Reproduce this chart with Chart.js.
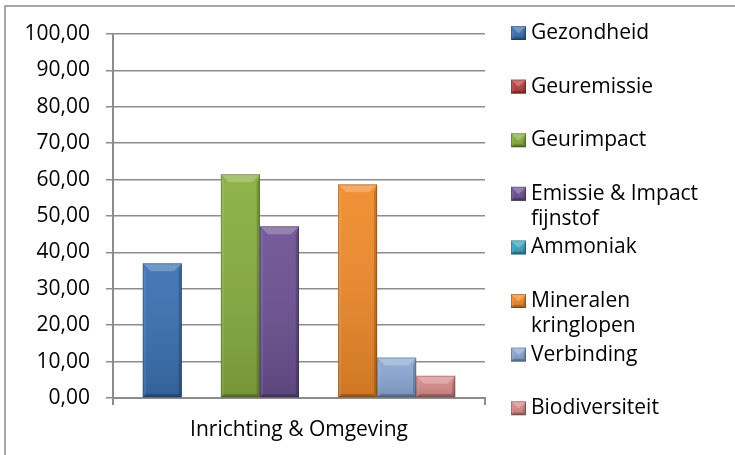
<!DOCTYPE html>
<html>
<head>
<meta charset="utf-8">
<script src="https://cdn.jsdelivr.net/npm/chart.js@4.4.0/dist/chart.umd.min.js"></script>
<style>
  html, body { margin: 0; padding: 0; background: #fff; }
  #wrap { width: 735px; height: 455px; }
</style>
</head>
<body>
<div id="wrap"><canvas id="chart" width="735" height="455"></canvas></div>
<script>
const categories = ['Inrichting & Omgeving'];
const seriesNames = ['Gezondheid', 'Geuremissie', 'Geurimpact', 'Emissie & Impact fijnstof', 'Ammoniak', 'Mineralen kringlopen', 'Verbinding', 'Biodiversiteit'];
const seriesValues = [37.0, 0, 61.5, 47.2, 0, 58.7, 11.1, 6.1];
const seriesColors = ['#3a70b2', '#b9403d', '#88ad3f', '#6c5193', '#3ea6c0', '#f08a2a', '#8aa9d5', '#d98b8a'];
const yTickValues = [0, 10, 20, 30, 40, 50, 60, 70, 80, 90, 100];

const axisGray = '#8c8c8c';
const fontFamily = "'Open Sans', sans-serif";

Chart.defaults.font.family = fontFamily;
Chart.defaults.font.size = 21;
Chart.defaults.color = '#000';

// bevel look like the old office charts
function bevel(ctx, l, t, r, bot) {
    const h = bot - t;
    const w = r - l;
    if (h < 1) return;
    const b = Math.min(8, h / 2, w / 2);
    const g = ctx.createLinearGradient(0, t, 0, bot);
    g.addColorStop(0, 'rgba(255,255,255,0.06)');
    g.addColorStop(1, 'rgba(0,0,0,0.14)');
    ctx.fillStyle = g;
    ctx.fillRect(l, t, w, h);

    const poly = (pts, fill) => {
        ctx.beginPath();
        ctx.moveTo(pts[0][0], pts[0][1]);
        pts.slice(1).forEach((p) => ctx.lineTo(p[0], p[1]));
        ctx.closePath();
        ctx.fillStyle = fill;
        ctx.fill();
    };
    poly([[l, t], [r, t], [r - b, t + b], [l + b, t + b]], 'rgba(255,255,255,0.24)');
    poly([[l, t], [l + b * 0.4, t + b], [l + b * 0.4, bot - b * 0.4], [l, bot]], 'rgba(255,255,255,0.08)');
    poly([[r, t], [r - b * 0.4, t + b], [r - b * 0.4, bot - b * 0.4], [r, bot]], 'rgba(0,0,0,0.18)');
    poly([[l, bot], [l + b * 0.4, bot - b * 0.4], [r - b * 0.4, bot - b * 0.4], [r, bot]], 'rgba(0,0,0,0.22)');
    ctx.strokeStyle = 'rgba(0,0,0,0.22)';
    ctx.lineWidth = 1;
    ctx.strokeRect(l + 0.5, t + 0.5, w - 1, h - 1);
}

const frame = {
    id: 'frame',
    beforeDraw(chart) {
        const { ctx } = chart;
        ctx.save();
        ctx.strokeStyle = axisGray;
        ctx.lineWidth = 1.5;
        ctx.strokeRect(5, 6, 760, 480);
        ctx.restore();
    },
};

const barBevel = {
    id: 'barBevel',
    afterDatasetsDraw(chart) {
        const { ctx } = chart;
        ctx.save();
        chart.data.datasets.forEach((ds, i) => {
            chart.getDatasetMeta(i).data.forEach((bar) => {
                const { x, y, base, width } = bar.getProps(['x', 'y', 'base', 'width'], true);
                bevel(ctx, x - width / 2, y, x + width / 2, base);
            });
        });
        ctx.restore();
    },
};

const sideLegend = {
    id: 'sideLegend',
    afterDraw(chart) {
        const { ctx, chartArea } = chart;
        const boxX = chartArea.right + 26;
        const textX = boxX + 20;
        const maxW = 185;
        const step = 53.6;
        const lineH = 25;
        ctx.save();
        ctx.font = `21px ${fontFamily}`;
        ctx.textBaseline = 'middle';
        ctx.textAlign = 'left';
        seriesNames.forEach((name, i) => {
            const cy = 33 + i * step;
            ctx.fillStyle = seriesColors[i];
            ctx.fillRect(boxX, cy - 7, 15, 14);
            bevel(ctx, boxX, cy - 7, boxX + 15, cy + 7);

            const words = name.split(' ');
            const lines = [];
            let cur = '';
            words.forEach((w) => {
                const test = cur ? cur + ' ' + w : w;
                if (ctx.measureText(test).width > maxW && cur) {
                    lines.push(cur);
                    cur = w;
                } else {
                    cur = test;
                }
            });
            lines.push(cur);
            ctx.fillStyle = '#000';
            lines.forEach((ln, k) => ctx.fillText(ln, textX, cy + k * lineH));
        });
        ctx.restore();
    },
};

new Chart(document.getElementById('chart'), {
    type: 'bar',
    data: {
        labels: categories,
        datasets: seriesNames.map((name, i) => ({
            label: name,
            data: [seriesValues[i]],
            backgroundColor: seriesColors[i],
            borderWidth: 0,
            categoryPercentage: 0.84,
            barPercentage: 1,
        })),
    },
    options: {
        responsive: false,
        animation: false,
        layout: {
            padding: { top: 34, right: 250, bottom: 0, left: 0 },
        },
        plugins: {
            legend: { display: false },
            tooltip: { enabled: false },
        },
        scales: {
            x: {
                afterFit: (s) => { s.height = 57; },
                border: { color: axisGray, width: 2 },
                grid: { drawOnChartArea: false, drawTicks: true, tickLength: 7, color: axisGray, lineWidth: 2, offset: true },
                ticks: { padding: 12, color: '#000' },
            },
            y: {
                min: 0,
                max: 100,
                afterFit: (s) => { s.width = 113; },
                afterBuildTicks: (s) => { s.ticks = yTickValues.map((v) => ({ value: v })); },
                border: { color: axisGray, width: 2 },
                grid: { color: axisGray, lineWidth: 1.5, tickLength: 7 },
                ticks: {
                    padding: 16,
                    color: '#000',
                    callback: (v) => v.toFixed(2).replace('.', ','),
                },
            },
        },
    },
    plugins: [frame, barBevel, sideLegend],
});
</script>
</body>
</html>
